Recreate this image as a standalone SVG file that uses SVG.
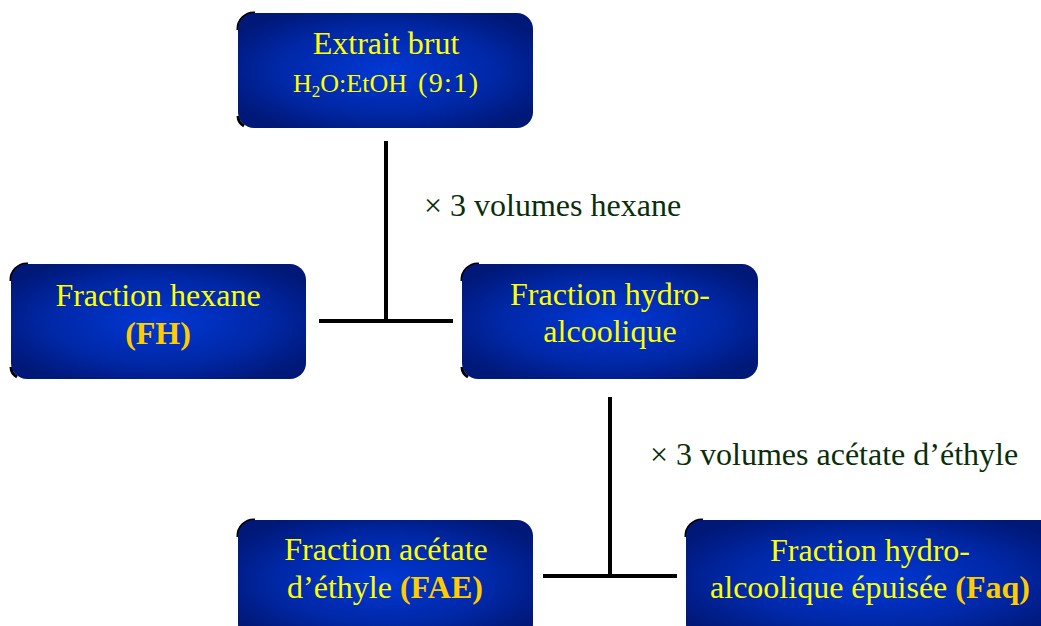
<svg xmlns="http://www.w3.org/2000/svg" width="1041" height="626" viewBox="0 0 1041 626">
<defs>
<radialGradient id="bg" cx="50%" cy="50%" r="60%">
<stop offset="0" stop-color="#0038d4"/>
<stop offset="0.6" stop-color="#0028a8"/>
<stop offset="1" stop-color="#001878"/>
</radialGradient>
</defs>
<style>
.sh{fill:none;stroke:#000;stroke-width:3}
.bx{fill:url(#bg)}
.t{font-family:"Liberation Serif","Times New Roman",serif;font-size:32px;fill:#ffff00;text-anchor:middle}
.b{font-weight:bold;fill:#ffcc00}
.lab{font-family:"Liberation Serif","Times New Roman",serif;font-size:32px;fill:#0a2e0a}
.ln{stroke:#000;stroke-width:4;fill:none}
</style>
<rect width="1041" height="626" fill="#fff"/>
<g id="connectors">
<path class="ln" d="M386 141V321M319 321H453"/>
<path class="ln" d="M610 397V576M543 576H677"/>
<text class="lab" x="424" y="216">× 3 volumes hexane</text>
<text class="lab" x="650" y="465">× 3 volumes acétate d’éthyle</text>
</g>
<g id="n1">
<path class="sh" d="M238 30A16 16 0 0 1 255 13M238 116A12 12 0 0 0 244 126"/>
<rect class="bx" x="238" y="13" width="295" height="115" rx="16"/>
<text class="t" x="386" y="54">Extrait brut</text>
<text class="t" x="293" y="92" style="text-anchor:start;font-size:26px">H<tspan font-size="17" dy="5">2</tspan><tspan dy="-5">O:EtOH</tspan></text>
<text class="t" x="418" y="92" style="text-anchor:start;font-size:28px;letter-spacing:1.4px">(9:1)</text>
</g>
<g id="n2">
<path class="sh" d="M11 281A16 16 0 0 1 28 264M11 367A12 12 0 0 0 17 377"/>
<rect class="bx" x="11" y="264" width="295" height="115" rx="16"/>
<text class="t" x="158" y="306">Fraction hexane</text>
<text class="t b" x="158" y="344">(FH)</text>
</g>
<g id="n3">
<path class="sh" d="M462 281A16 16 0 0 1 479 264M462 367A12 12 0 0 0 468 377"/>
<rect class="bx" x="462" y="264" width="296" height="115" rx="16"/>
<text class="t" x="610" y="305">Fraction hydro-</text>
<text class="t" x="610" y="342">alcoolique</text>
</g>
<g id="n4">
<path class="sh" d="M238 537A16 16 0 0 1 255 520"/>
<rect class="bx" x="238" y="520" width="295" height="120" rx="16"/>
<text class="t" x="386" y="560">Fraction acétate</text>
<text class="t" x="385" y="598">d’éthyle <tspan class="b">(FAE)</tspan></text>
</g>
<g id="n5">
<path class="sh" d="M686 537A16 16 0 0 1 703 520"/>
<rect class="bx" x="686" y="520" width="370" height="120" rx="16"/>
<text class="t" x="870" y="561">Fraction hydro-</text>
<text class="t" x="870" y="598">alcoolique épuisée <tspan class="b">(Faq)</tspan></text>
</g>
</svg>
